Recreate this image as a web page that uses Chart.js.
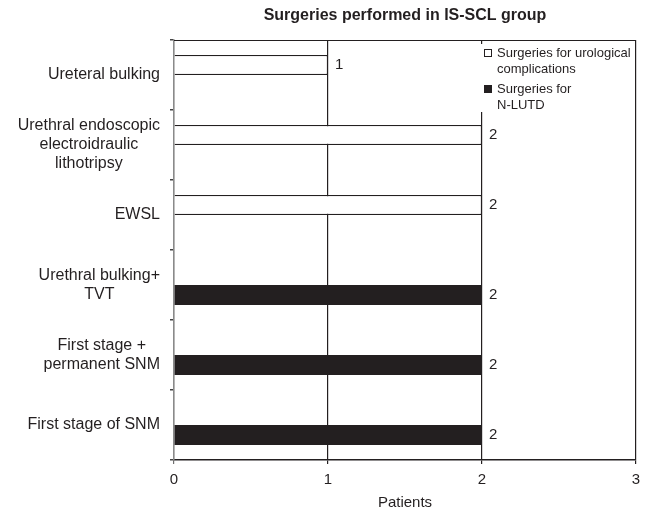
<!DOCTYPE html>
<html>
<head>
<meta charset="utf-8">
<script src="https://cdn.jsdelivr.net/npm/chart.js@4.4.1/dist/chart.umd.min.js"></script>
<style>
  html, body { margin: 0; padding: 0; background: #fff; }
  #wrap { width: 648px; height: 509px; }
</style>
</head>
<body>
<div id="wrap"><canvas id="chart" width="648" height="509"></canvas></div>
<script>
// data
const categories = [
  ["Ureteral bulking"],
  ["Urethral endoscopic", "electroidraulic", "lithotripsy"],
  ["EWSL"],
  ["Urethral bulking+", "TVT"],
  ["First stage +", "permanent SNM"],
  ["First stage of SNM"]
]
const urologicalValues = [1, 2, 2, null, null, null]
const nlutdValues = [null, null, null, 2, 2, 2]
const seriesNames = [["Surgeries for urological", "complications"], ["Surgeries for", "N-LUTD"]]
const xTicks = [0, 1, 2, 3]
const chartTitle = "Surgeries performed in IS-SCL group"
const xTitle = "Patients"

const INK = "#231f20"
const FONT = "'Liberation Sans', Arial, Helvetica, sans-serif"

// title, frame, category labels, value labels and legend
const decorPlugin = {
  id: "decor",
  afterDraw(chart) {
    const ctx = chart.ctx
    const area = chart.chartArea
    const yScale = chart.scales.y
    ctx.save()

    // top frame line
    ctx.strokeStyle = INK
    ctx.lineWidth = 1.2
    ctx.beginPath()
    ctx.moveTo(area.left, area.top + 0.5)
    ctx.lineTo(area.right, area.top + 0.5)
    ctx.stroke()

    // title centred over the plot area
    ctx.fillStyle = INK
    ctx.font = "bold 16px " + FONT
    ctx.textAlign = "center"
    ctx.textBaseline = "middle"
    ctx.fillText(chartTitle, (area.left + area.right) / 2, 16)

    // category labels: block right aligned, lines centred inside it
    ctx.font = "16px " + FONT
    const lineH = 19
    const rightEdge = 160
    categories.forEach((lines, i) => {
      const cy = yScale.getPixelForValue(i)
      const blockW = Math.max(...lines.map((l) => ctx.measureText(l).width))
      const cx = rightEdge - blockW / 2
      const startY = cy - ((lines.length - 1) * lineH) / 2
      lines.forEach((l, k) => ctx.fillText(l, cx, startY + k * lineH))
    })

    // value labels at bar ends
    ctx.font = "15px " + FONT
    ctx.textAlign = "left"
    chart.data.datasets.forEach((ds, di) => {
      const meta = chart.getDatasetMeta(di)
      ds.data.forEach((v, j) => {
        if (v === null) return
        const el = meta.data[j]
        ctx.fillText(String(v), el.x + 7, el.y)
      })
    })

    // legend box inside the plot, top right
    ctx.fillStyle = "#fff"
    ctx.fillRect(478, 44, area.right - 479, 68)
    ctx.font = "13px " + FONT
    const items = [
      { y: 53, fill: "#fff" },
      { y: 89, fill: INK }
    ]
    items.forEach((it, i) => {
      ctx.fillStyle = it.fill
      ctx.fillRect(484, it.y - 4, 8, 8)
      ctx.strokeStyle = INK
      ctx.lineWidth = 1
      ctx.strokeRect(484.5, it.y - 3.5, 7, 7)
      ctx.fillStyle = INK
      seriesNames[i].forEach((l, k) => ctx.fillText(l, 497, it.y + k * 16))
    })

    ctx.restore()
  }
}

new Chart(document.getElementById("chart"), {
  type: "bar",
  data: {
    labels: categories,
    datasets: [
      {
        label: seriesNames[0].join(" "),
        data: urologicalValues,
        backgroundColor: "#ffffff",
        borderColor: INK,
        borderWidth: 1.3,
        categoryPercentage: 40 / 70,
        barPercentage: 1
      },
      {
        label: seriesNames[1].join(" "),
        data: nlutdValues,
        backgroundColor: INK,
        borderColor: INK,
        borderWidth: 0,
        categoryPercentage: 40 / 70,
        barPercentage: 1
      }
    ]
  },
  options: {
    indexAxis: "y",
    responsive: false,
    animation: false,
    layout: { padding: { top: 40, right: 12, left: 0, bottom: 0 } },
    plugins: {
      legend: { display: false },
      title: { display: false },
      tooltip: { enabled: false }
    },
    scales: {
      x: {
        type: "linear",
        min: 0,
        max: 3,
        afterBuildTicks: (s) => {
          s.ticks = xTicks.map((v) => ({ value: v }))
        },
        afterFit: (s) => {
          s.height = 49
        },
        grid: {
          color: (c) => (c.index === 0 ? "#6f6f6f" : INK),
          lineWidth: 1.2,
          drawTicks: true,
          tickLength: 4
        },
        border: { color: INK, width: 1.5 },
        ticks: {
          color: INK,
          padding: 7,
          font: { family: FONT, size: 15 },
          callback: (v) => String(v)
        },
        title: {
          display: true,
          text: xTitle,
          color: INK,
          font: { family: FONT, size: 15, lineHeight: 0.8 },
          padding: { top: 0, bottom: 0 }
        }
      },
      y: {
        type: "category",
        offset: true,
        afterFit: (s) => {
          s.width = 174
        },
        grid: {
          offset: true,
          drawOnChartArea: false,
          drawTicks: true,
          tickLength: 4,
          color: "#444",
          lineWidth: 1.5
        },
        border: { color: "#8a8a8a", width: 1.5 },
        ticks: { display: false }
      }
    }
  },
  plugins: [decorPlugin]
})
</script>
</body>
</html>
